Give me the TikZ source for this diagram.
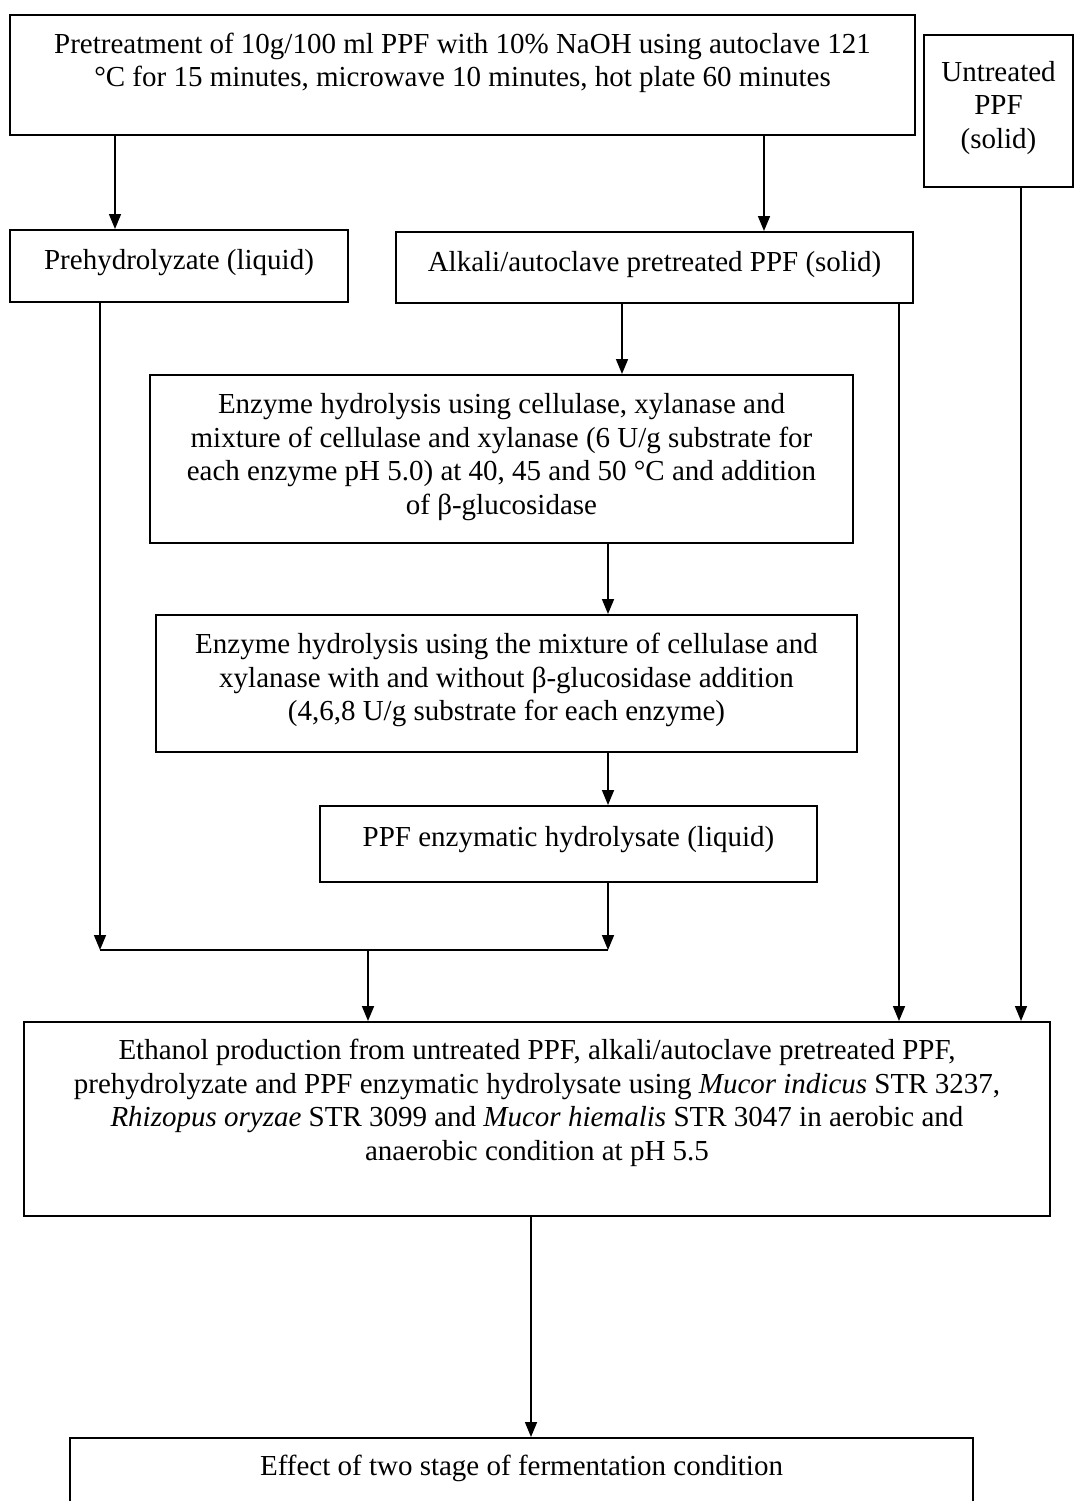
\documentclass[tikz,border=0pt]{standalone}
\usepackage{fontspec}
\setmainfont{Liberation Serif}
\usetikzlibrary{arrows.meta}

\tikzset{
    stage/.style={draw, line width=1pt, inner sep=0pt},
    stagetext/.style={align=center, inner sep=0pt, font=\fontsize{14.5}{16.8}\selectfont},
    flow/.style={line width=0.8pt, -{Triangle[length=7.5pt,width=6pt]}},
}

\begin{document}
\begin{tikzpicture}[x=0.5pt, y=-0.5pt]
    \useasboundingbox (0,0) rectangle (1075,1501);
    \clip (0,0) rectangle (1075,1501);
    % boxes
    \node[stage, minimum width=452.5pt, minimum height=60pt] (pretreat) at (462.5,75) {};
    \node[stage, minimum width=74.5pt, minimum height=76pt] (untreated) at (998.5,111) {};
    \node[stage, minimum width=169pt, minimum height=36pt] (prehyd) at (179,266) {};
    \node[stage, minimum width=258.5pt, minimum height=35.5pt] (alkali) at (654.5,267.5) {};
    \node[stage, minimum width=351.5pt, minimum height=84pt] (enzymeA) at (501.5,459) {};
    \node[stage, minimum width=350.5pt, minimum height=68.5pt] (enzymeB) at (506.5,683.5) {};
    \node[stage, minimum width=248.5pt, minimum height=38pt] (hydro) at (568.5,844) {};
    \node[stage, minimum width=513pt, minimum height=97pt] (ethanol) at (537,1119) {};
    \node[stage, minimum width=451.5pt, minimum height=51pt] (effect) at (521.5,1489) {};
    % texts
    \node[stagetext] (pretreat-t) at (462.5,63) {Pretreatment of 10g/100 ml PPF with 10\% NaOH using autoclave 121\\°C for 15 minutes, microwave 10 minutes, hot plate 60 minutes};
    \node[stagetext] (untreated-t) at (998.5,108) {Untreated\\PPF\\(solid)};
    \node[stagetext] (prehyd-t) at (179,263) {Prehydrolyzate (liquid)};
    \node[stagetext] (alkali-t) at (654.5,265) {Alkali/autoclave pretreated PPF (solid)};
    \node[stagetext] (enzymeA-t) at (501.5,457) {Enzyme hydrolysis using cellulase, xylanase and\\mixture of cellulase and xylanase (6 U/g substrate for\\each enzyme pH 5.0) at 40, 45 and 50 °C and addition\\of β-glucosidase};
    \node[stagetext] (enzymeB-t) at (506.5,680) {Enzyme hydrolysis using the mixture of cellulase and\\xylanase with and without β-glucosidase addition\\(4,6,8 U/g substrate for each enzyme)};
    \node[stagetext] (hydro-t) at (568.5,840) {PPF enzymatic hydrolysate (liquid)};
    \node[stagetext] (ethanol-t) at (537,1103) {Ethanol production from untreated PPF, alkali/autoclave pretreated PPF,\\prehydrolyzate and PPF enzymatic hydrolysate using \textit{Mucor indicus} STR 3237,\\\textit{Rhizopus oryzae} STR 3099 and \textit{Mucor hiemalis} STR 3047 in aerobic and\\anaerobic condition at pH 5.5};
    \node[stagetext] (effect-t) at (521.5,1468) {Effect of two stage of fermentation condition};
    % lanes
    \coordinate (laneA) at (115,0);
    \coordinate (laneB) at (764,0);
    \coordinate (laneD) at (622,0);
    \coordinate (laneE) at (608,0);
    \coordinate (laneG) at (899,0);
    \coordinate (laneH) at (1021,0);
    \coordinate (laneI) at (531,0);
    \coordinate (joinL) at (100,950);
    \coordinate (joinM) at (368,950);
    \coordinate (joinR) at (608,950);
    % arrows
    \draw[flow] (pretreat.south -| laneA) -- (prehyd.north -| laneA);
    \draw[flow] (pretreat.south -| laneB) -- (alkali.north -| laneB);
    \draw[flow] (alkali.south -| laneD) -- (enzymeA.north -| laneD);
    \draw[flow] (enzymeA.south -| laneE) -- (enzymeB.north -| laneE);
    \draw[flow] (enzymeB.south -| laneE) -- (hydro.north -| laneE);
    \draw[flow] (prehyd.south -| joinL) -- (joinL);
    \draw[flow] (hydro.south -| joinR) -- (joinR);
    \draw[line width=0.8pt] (joinL) -- (joinR);
    \draw[flow] (joinM) -- (ethanol.north -| joinM);
    \draw[flow] (alkali.south -| laneG) -- (ethanol.north -| laneG);
    \draw[flow] (untreated.south -| laneH) -- (ethanol.north -| laneH);
    \draw[flow] (ethanol.south -| laneI) -- (effect.north -| laneI);
\end{tikzpicture}
\end{document}
